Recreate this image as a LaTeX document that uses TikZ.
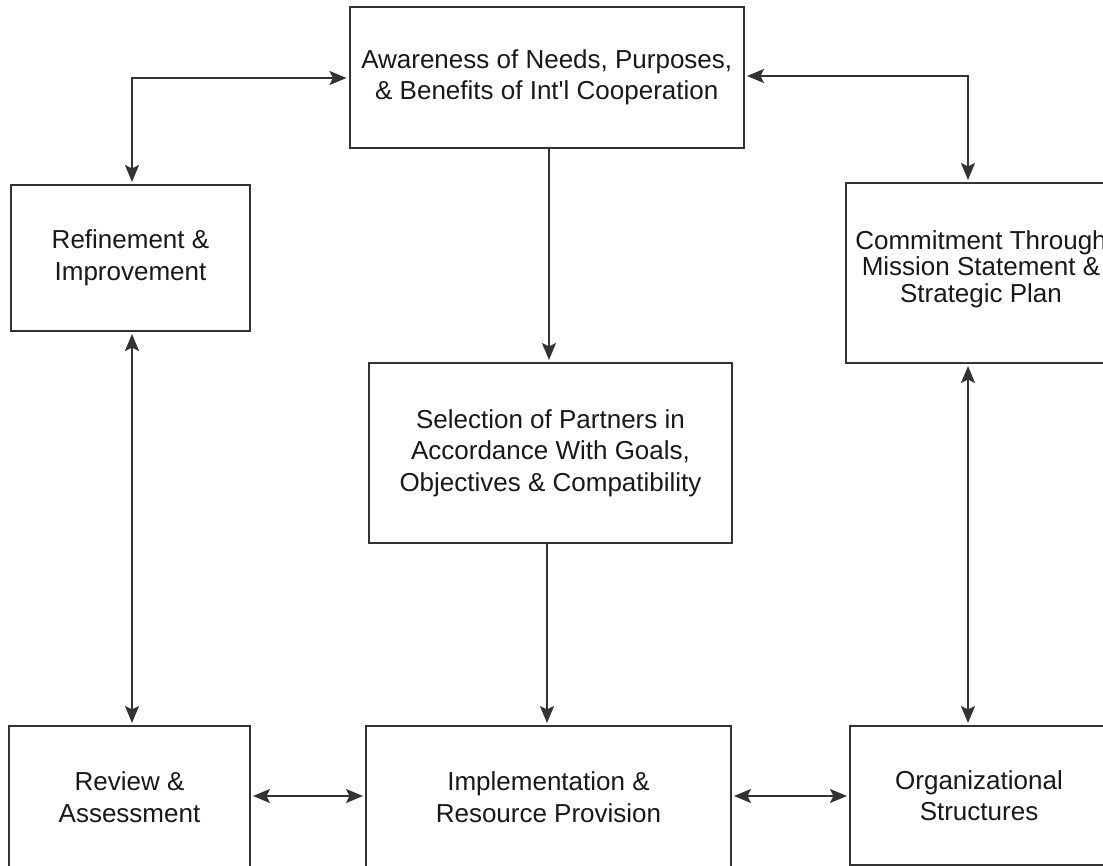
\documentclass[tikz,border=0pt]{standalone}
\usepackage{fontspec}
\setmainfont{Liberation Sans}
\usetikzlibrary{arrows.meta}
\definecolor{linegray}{HTML}{333333}
\tikzset{
  box/.style={draw=linegray, line width=2pt, rectangle, inner sep=0pt, align=center,
    font=\fontsize{26}{31.5}\selectfont, text=black!90},
  conn/.style={draw=linegray, line width=2pt,
    arrows={Stealth[length=17pt,width=14pt,inset=3.5pt]-Stealth[length=17pt,width=14pt,inset=3.5pt]},
    shorten <=2pt, shorten >=2pt},
  oneway/.style={draw=linegray, line width=2pt,
    -{Stealth[length=17pt,width=14pt,inset=3.5pt]}, shorten >=2pt}
}
\begin{document}
\begin{tikzpicture}[x=1pt,y=-1pt]
\useasboundingbox (0,0) rectangle (1103,866);
\clip (0,0) rectangle (1103,866);
\fill[white] (0,0) rectangle (1103,866);

\node[box, minimum width=394.5pt, minimum height=141pt] (aw) at (546.75,77.5)
  {Awareness of Needs, Purposes,\\ \& Benefits of Int\textquotesingle l Cooperation};
\node[box, minimum width=239pt, minimum height=146pt] (ref) at (130.5,258)
  {Refinement \&\\ Improvement};
\node[box, minimum width=270pt, minimum height=180pt,
  font=\fontsize{26}{26.5}\selectfont] (com) at (981,273)
  {Commitment Through\\ Mission Statement \&\\ Strategic Plan\\[-13pt]\mbox{}};
\node[box, minimum width=363pt, minimum height=180pt] (sel) at (550.5,453)
  {Selection of Partners in\\ Accordance With Goals,\\ Objectives \& Compatibility};
\node[box, minimum width=241pt, minimum height=142pt] (rev) at (129.5,797)
  {Review \&\\ Assessment};
\node[box, minimum width=365pt, minimum height=142pt] (imp) at (548.5,797)
  {Implementation \&\\ Resource Provision};
\node[box, minimum width=258pt, minimum height=139pt] (org) at (979,795.5)
  {Organizational\\ Structures};

\coordinate (xl) at (132,0);
\coordinate (xr) at (968,0);
\coordinate (xa) at (549,0);
\coordinate (xs) at (547,0);
\coordinate (yl) at (0,78);
\coordinate (yr) at (0,76);
\coordinate (yb) at (0,796);

\draw[conn] (aw.west |- yl) -| (ref.north -| xl);
\draw[conn] (aw.east |- yr) -| (com.north -| xr);
\draw[oneway] (aw.south -| xa) -- (sel.north -| xa);
\draw[oneway] (sel.south -| xs) -- (imp.north -| xs);
\draw[conn] (ref.south -| xl) -- (rev.north -| xl);
\draw[conn] (com.south -| xr) -- (org.north -| xr);
\draw[conn] (rev.east |- yb) -- (imp.west |- yb);
\draw[conn] (imp.east |- yb) -- (org.west |- yb);
\end{tikzpicture}
\end{document}
